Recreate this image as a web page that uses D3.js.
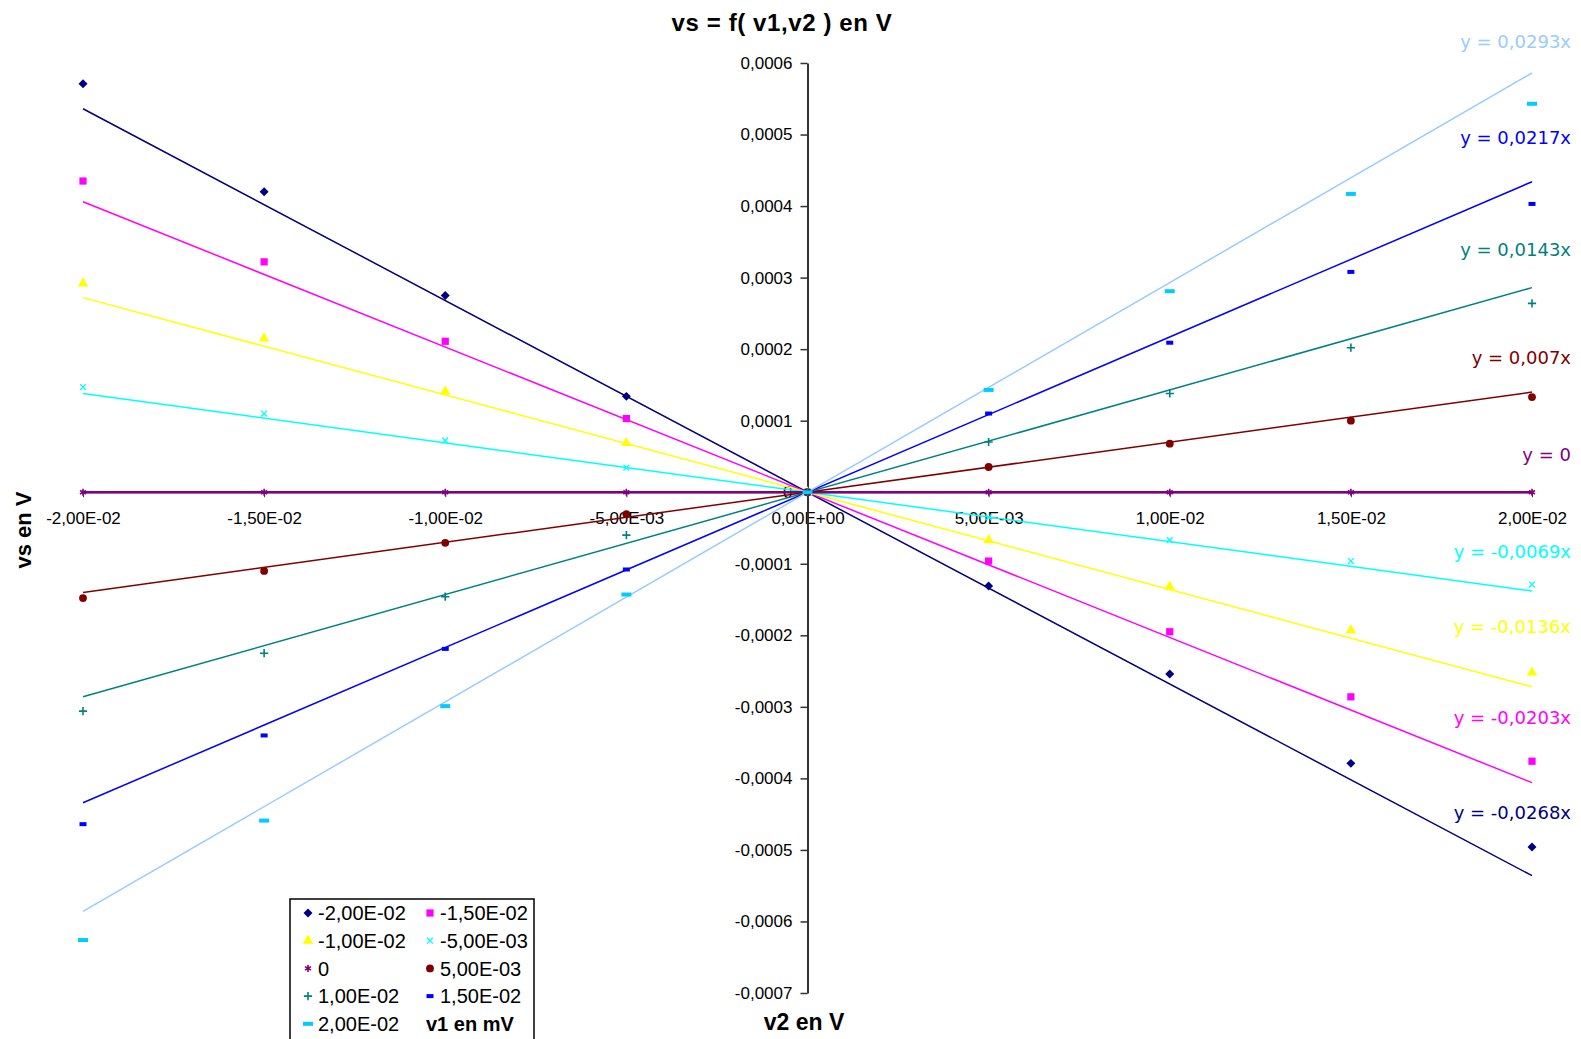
<!DOCTYPE html>
<html>
<head>
<meta charset="utf-8">
<script src="https://cdn.jsdelivr.net/npm/d3@7"></script>
<style>
  body { margin: 0; background: #fff; }
  svg { font-family: "Liberation Sans", Arial, sans-serif; }
</style>
</head>
<body>
<div id="chart"></div>
<script>
(function () {

  // v2 values (x) and v1 series names
  const v2Values = [-0.02, -0.015, -0.01, -0.005, 0, 0.005, 0.01, 0.015, 0.02]
  const v1Names = ["-2,00E-02", "-1,50E-02", "-1,00E-02", "-5,00E-03", "0", "5,00E-03", "1,00E-02", "1,50E-02", "2,00E-02"]

  const vsM20 = [0.000571, 0.00042, 0.000275, 0.000134, 0, -0.000131, -0.000254, -0.000379, -0.000496]
  const vsM15 = [0.000435, 0.000322, 0.000211, 0.000103, 0, -0.0000962, -0.000195, -0.000286, -0.000376]
  const vsM10 = [0.000292, 0.000215, 0.000141, 0.0000688, 0, -0.0000669, -0.000132, -0.000193, -0.000252]
  const vsM05 = [0.000147, 0.00011, 0.0000725, 0.0000344, 0, -0.000035, -0.0000669, -0.0000962, -0.000129]
  const vsZero = [0, 0, 0, 0, 0, 0, 0, 0, 0]
  const vsP05 = [-0.000148, -0.00011, -0.0000707, -0.0000307, 0, 0.0000353, 0.0000679, 0.0001, 0.000133]
  const vsP10 = [-0.000306, -0.000225, -0.000146, -0.00006, 0, 0.0000702, 0.000138, 0.000202, 0.000264]
  const vsP15 = [-0.000464, -0.00034, -0.000219, -0.000108, 0, 0.00011, 0.000209, 0.000308, 0.000403]
  const vsP20 = [-0.000626, -0.000459, -0.000299, -0.000143, 0, 0.000143, 0.000281, 0.000417, 0.000543]

  // trendline slopes (y = a x)
  const slopes = [-0.0268, -0.0203, -0.0136, -0.0069, 0, 0.007, 0.0143, 0.0217, 0.0293]

  const yTicks = [-0.0007, -0.0006, -0.0005, -0.0004, -0.0003, -0.0002, -0.0001, 0, 0.0001, 0.0002, 0.0003, 0.0004, 0.0005, 0.0006]

  const seriesValues = [vsM20, vsM15, vsM10, vsM05, vsZero, vsP05, vsP10, vsP15, vsP20]

  // styles
  const lineColors = ["#000080", "#ff00ff", "#ffff00", "#00ffff", "#800080", "#800000", "#008080", "#0000ff", "#99ccff"]
  const markerColors = ["#000080", "#ff00ff", "#ffff00", "#00ffff", "#800080", "#800000", "#008080", "#0000ff", "#00ccff"]
  const eqLabelY = [813, 718, 627, 552, 455, 358, 250, 138, 42]

  const margin = { top: 63, right: 49, bottom: 46, left: 83 }
  const width = 1581 - margin.left - margin.right
  const height = 1039 - margin.top - margin.bottom

  const root = d3.select("#chart").append("svg")
      .attr("width", 1581)
      .attr("height", 1039)

  const svg = root.append("g")
      .attr("transform", "translate(" + margin.left + "," + margin.top + ")")

  const xPositionScale = d3.scaleLinear()
    .domain([-0.02, 0.02])
    .range([0, width])

  const yPositionScale = d3.scaleLinear()
    .domain([-0.0007, 0.0006])
    .range([height, 0])

  function sciFormat (d) {
    if (d === 0) return "0,00E+00"
    const e = Math.floor(Math.log10(Math.abs(d)) + 1e-9)
    const m = (d / Math.pow(10, e)).toFixed(2).replace(".", ",")
    const es = (e < 0 ? "-" : "+") + String(Math.abs(e)).padStart(2, "0")
    return m + "E" + es
  }

  function decFormat (d) {
    if (Math.abs(d) < 1e-12) return "0"
    return d.toFixed(4).replace(".", ",")
  }

  // x axis sits on vs = 0
  const xAxis = d3.axisBottom(xPositionScale)
    .tickValues(v2Values)
    .tickFormat(sciFormat)
    .tickSize(5)
    .tickSizeOuter(0)
    .tickPadding(15)
  const xg = svg.append("g")
    .attr("class", "axis x-axis")
    .attr("transform", "translate(0," + yPositionScale(0) + ")")
    .call(xAxis)
  xg.attr("font-family", null).attr("font-size", null)
  xg.selectAll("text").style("font-size", "17px").attr("fill", "#000")
  xg.selectAll("line").attr("stroke", "#333")
  xg.select(".domain").attr("stroke", "#333")

  // y axis sits on v2 = 0
  const yAxis = d3.axisLeft(yPositionScale)
    .tickValues(yTicks)
    .tickFormat(decFormat)
    .tickSize(7)
    .tickSizeOuter(0)
    .tickPadding(8)
  const yg = svg.append("g")
    .attr("class", "axis y-axis")
    .attr("transform", "translate(" + xPositionScale(0) + ",0)")
    .call(yAxis)
  yg.attr("font-family", null).attr("font-size", null)
  yg.selectAll("text").style("font-size", "17px").attr("fill", "#000")
  yg.selectAll("line").attr("stroke", "#333").attr("stroke-width", 1.5)
  yg.select(".domain").attr("stroke", "#333").attr("stroke-width", 2)

  // trendlines
  svg.selectAll(".trend")
    .data(slopes)
    .join("line")
    .attr("class", "trend")
    .attr("x1", xPositionScale(-0.02))
    .attr("y1", d => yPositionScale(d * -0.02))
    .attr("x2", xPositionScale(0.02))
    .attr("y2", d => yPositionScale(d * 0.02))
    .attr("stroke", (d, i) => lineColors[i])
    .attr("stroke-width", (d, i) => i === 4 ? 2.5 : 1.5)

  // markers
  function drawMarker (sel, i) {
    const c = markerColors[i]
    if (i === 0) {
      sel.append("path").attr("d", d3.symbol(d3.symbolSquare, 40)()).attr("transform", "rotate(45)").attr("fill", c)
    } else if (i === 1) {
      sel.append("path").attr("d", d3.symbol(d3.symbolSquare, 52)()).attr("fill", c)
    } else if (i === 2) {
      sel.append("path").attr("d", d3.symbol(d3.symbolTriangle, 48)()).attr("fill", c)
    } else if (i === 3) {
      sel.append("path").attr("d", d3.symbol(d3.symbolTimes, 24)()).attr("fill", "none").attr("stroke", c).attr("stroke-width", 1.3)
    } else if (i === 4) {
      sel.append("path").attr("d", d3.symbol(d3.symbolAsterisk, 34)()).attr("fill", "none").attr("stroke", c).attr("stroke-width", 1.6)
    } else if (i === 5) {
      sel.append("path").attr("d", d3.symbol(d3.symbolCircle, 48)()).attr("fill", c)
    } else if (i === 6) {
      sel.append("path").attr("d", d3.symbol(d3.symbolPlus, 24)()).attr("fill", "none").attr("stroke", c).attr("stroke-width", 1.6)
    } else if (i === 7) {
      sel.append("rect").attr("x", -3.5).attr("y", -2).attr("width", 7).attr("height", 4).attr("fill", c)
    } else {
      sel.append("rect").attr("x", -5).attr("y", -2).attr("width", 10).attr("height", 4).attr("fill", c)
    }
  }

  seriesValues.forEach((vals, i) => {
    const points = v2Values.map((x, j) => ({ x: x, y: vals[j] }))
    svg.append("g")
      .selectAll("g")
      .data(points)
      .join("g")
      .attr("transform", d => "translate(" + xPositionScale(d.x) + "," + yPositionScale(d.y) + ")")
      .each(function () { drawMarker(d3.select(this), i) })
  })

  // trendline equations
  root.selectAll(".eq")
    .data(slopes)
    .join("text")
    .attr("class", "eq")
    .attr("x", 1571)
    .attr("y", (d, i) => eqLabelY[i])
    .attr("dy", "0.36em")
    .attr("text-anchor", "end")
    .style("font-family", "'DejaVu Sans'")
    .style("font-size", "18px")
    .attr("fill", (d, i) => lineColors[i])
    .text(d => d === 0 ? "y = 0" : "y = " + String(d).replace(".", ",") + "x")

  // titles
  root.append("text")
    .attr("x", 782)
    .attr("y", 31)
    .attr("text-anchor", "middle")
    .style("font-size", "24px")
    .attr("font-weight", "bold")
    .attr("letter-spacing", 0.6)
    .text("vs = f( v1,v2 ) en V")

  root.append("text")
    .attr("x", 804)
    .attr("y", 1030)
    .attr("text-anchor", "middle")
    .style("font-size", "23px")
    .attr("font-weight", "bold")
    .text("v2 en V")

  root.append("text")
    .attr("transform", "translate(31,530) rotate(-90)")
    .attr("text-anchor", "middle")
    .style("font-size", "22px")
    .attr("font-weight", "bold")
    .text("vs en V")

  // legend
  const legend = root.append("g").attr("transform", "translate(290,899)")
  legend.append("rect")
    .attr("x", 0).attr("y", 0)
    .attr("width", 244).attr("height", 170)
    .attr("fill", "#fff")
    .attr("stroke", "#000")
    .attr("stroke-width", 1.5)

  const items = legend.selectAll(".item")
    .data(v1Names)
    .join("g")
    .attr("class", "item")
    .attr("transform", (d, i) => "translate(" + (i % 2 === 0 ? 18 : 140) + "," + (14 + Math.floor(i / 2) * 27.7) + ")")
  items.each(function (d, i) { drawMarker(d3.select(this), i) })
  items.append("text")
    .attr("x", 10)
    .attr("dy", "0.36em")
    .style("font-size", "20px")
    .text(d => d)

  legend.append("text")
    .attr("x", 136)
    .attr("y", 14 + 4 * 27.7)
    .attr("dy", "0.36em")
    .style("font-size", "20px")
    .attr("font-weight", "bold")
    .text("v1 en mV")

})();
</script>
</body>
</html>
